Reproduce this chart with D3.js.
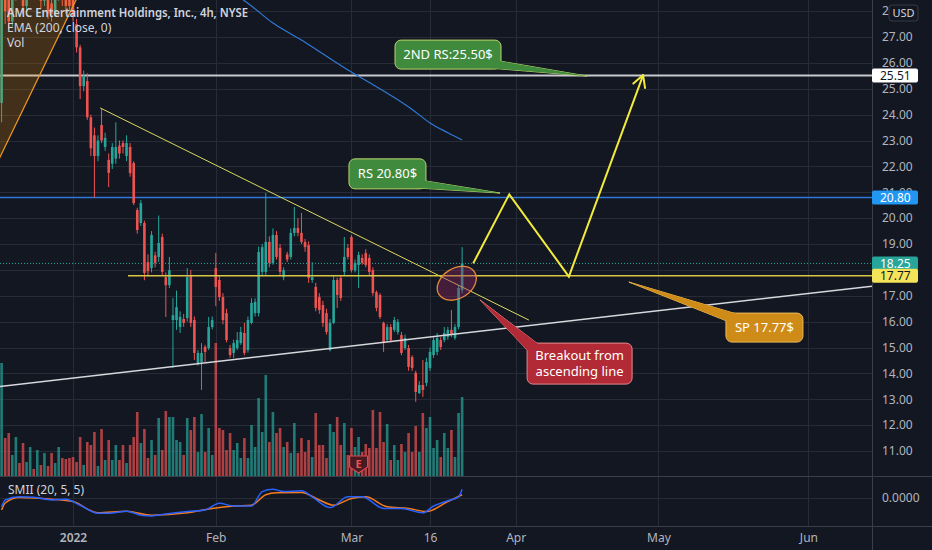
<!DOCTYPE html>
<html>
<head>
<meta charset="utf-8">
<script src="https://cdn.jsdelivr.net/npm/d3@7"></script>
<style>
  html, body { margin: 0; padding: 0; background: #131722; overflow: hidden; }
  svg { display: block; font-family: "Noto Sans", "Open Sans", sans-serif; }
</style>
</head>
<body>
<svg id="chart" width="932" height="550"></svg>
<script>
// ---- data (4h bars, index 0 = first visible bar) ----
const opens = [24.45,29.4,28.6,27.6,28.7,29.6,28.9,28.2,29.1,30.2,29.0,29.6,28.4,29.0,28.3,27.9,28.6,29.3,28.5,28.7,
  28.6,27.5,26.6,25.1,25.3,23.9,23.2,22.4,23.6,22.75,22.25,22.1,22.3,22.8,22.9,22.4,22.75,22.13,20.31,19.81,
  19.81,18.3,18.07,18.56,18.5,19.27,17.72,17.41,16.06,16.06,15.79,16.1,16.14,17.8,16.06,14.4,14.44,15.02,14.98,15.79,
  18.07,17.61,16.95,16.33,14.98,14.79,14.98,15.17,15.56,14.9,15.95,16.33,16.33,17.92,17.92,19.08,18.27,19.35,18.85,17.72,
  18.6,18.5,19.43,19.62,19.43,19.08,18.96,17.61,17.34,16.95,16.64,16.33,14.9,15.95,17.61,17.69,17.92,18.85,19.27,17.99,
  18.19,18.46,18.65,18.46,17.99,17.14,17.03,15.95,15.29,15.79,15.68,15.6,15.48,14.98,14.98,14.63,14.02,13.24,13.55,13.63,
  14.21,14.71,14.83,15.29,15.29,15.41,15.68,15.37,15.79,17.22];
const highs = [29.2,29.9,28.9,29.1,30.0,30.1,29.2,29.4,30.5,30.6,29.9,29.9,29.3,29.2,28.5,29.0,29.6,29.5,28.8,29.0,
  28.9,27.7,26.7,25.7,25.6,24.0,23.5,23.2,24.25,23.3,22.5,22.9,23.7,23.0,23.0,23.2,22.9,22.2,20.4,20.7,
  19.9,18.6,19.5,18.7,20.1,19.4,17.9,18.5,16.91,17.2,16.4,16.3,18.07,18.0,16.2,14.9,15.17,15.1,16.18,16.2,
  18.65,17.8,17.1,16.5,15.1,15.3,15.6,15.8,15.95,16.2,16.9,16.9,18.9,19.0,20.97,19.3,19.6,19.5,19.0,18.1,
  18.7,19.6,20.43,20.0,20.2,19.2,19.1,18.3,17.5,17.1,16.8,16.5,16.1,17.8,17.7,17.8,19.27,19.0,19.35,18.4,
  18.7,18.6,18.8,18.6,18.1,17.2,17.1,16.0,15.9,15.9,16.18,16.1,15.6,15.5,15.1,14.7,14.1,13.7,14.52,14.6,
  15.0,15.4,15.56,15.4,15.79,15.8,16.45,15.9,17.4,18.88];
const lows = [23.7,27.5,27.3,27.4,28.4,28.6,27.9,28.0,28.9,28.8,28.7,28.1,28.2,27.7,27.6,27.8,28.4,28.2,27.9,28.0,
  27.6,26.4,24.6,24.9,23.8,22.4,20.8,22.2,22.9,22.6,21.2,21.9,22.1,22.3,22.5,22.2,21.6,20.5,19.4,19.7,
  17.6,17.75,17.9,18.1,18.3,17.8,16.18,17.3,14.21,15.68,15.56,15.8,16.0,15.79,14.52,14.3,13.36,14.44,14.9,15.7,
  16.6,16.8,15.9,15.2,14.6,14.6,14.9,15.1,14.7,14.8,15.9,16.2,16.2,17.8,17.8,18.1,18.2,18.4,17.8,17.6,
  18.3,18.4,19.3,19.3,19.0,18.7,17.5,17.5,16.4,16.3,15.8,15.5,14.85,15.9,16.53,16.8,17.8,18.4,17.9,17.9,
  17.3,18.2,18.1,17.8,17.0,16.4,16.1,14.83,15.2,15.2,15.6,15.5,14.7,14.9,14.1,14.1,12.9,13.2,13.09,13.5,
  14.1,14.6,14.7,14.9,15.2,15.3,15.4,15.3,15.7,17.1];
const closes = [28.6,28.0,27.6,28.8,29.6,28.9,28.2,29.1,30.2,29.0,29.6,28.4,29.0,27.9,27.9,28.6,29.3,28.5,28.2,28.2,
  27.8,26.6,25.1,25.5,23.9,22.7,22.4,23.0,23.0,23.1,21.75,22.75,22.75,22.5,22.75,22.9,21.74,20.58,19.54,20.58,
  17.88,17.95,19.35,18.27,19.04,17.92,17.41,17.99,16.25,16.56,16.18,15.95,17.72,15.95,14.79,14.79,14.79,14.83,15.79,16.06,
  17.34,16.95,16.06,15.29,14.71,15.17,15.29,15.6,14.79,16.06,16.72,16.76,18.69,18.88,19.08,18.27,19.35,18.5,17.92,17.99,
  18.4,19.43,19.62,19.43,19.08,18.88,17.69,17.72,16.53,16.45,15.95,15.6,15.95,17.61,17.03,16.91,18.5,18.5,17.99,18.27,
  18.58,18.27,18.19,17.92,17.11,16.53,16.18,15.17,15.79,15.29,16.06,15.99,14.79,15.37,14.25,14.21,13.28,13.55,13.36,14.44,
  14.83,15.29,15.37,15.02,15.56,15.68,15.48,15.79,17.3,18.25];
const volumes = [56.5,19,21.5,10.5,19.5,6.5,16.5,7,14.5,3.5,
  13,5.5,11.5,5,11.5,6.5,14.5,9,8.5,9,
  9.5,7,19.5,5.5,17,15.5,22,5,23.5,8,
  18,8,15.5,8,15.5,6.5,15.5,19.5,32,16.5,
  23.5,9,18,10.5,29,13,32.5,29.5,29.5,18,
  17,10.5,29,23,29.5,12,31,12,24,10.5,
  66.5,24,23,13,21.5,13,16.5,9,19,9,
  25.5,14.5,39,22,50.5,17,32,21.5,24,14.5,
  17,11.5,26.5,11.5,19,12,18,9.5,31.5,15.5,
  15.5,9,26,22,29.5,15.5,26.5,10.5,24,14.5,
  19.5,12,16,14,33,14,32,17,26,8,
  15.5,8,16,12,21.5,12,25,12,31.5,24,
  29.5,14,18,9.5,21.5,14,23,9.5,31.5,39.5];

// EMA(200) as read where it is on screen
const emaIdx = [66,70,76,80,85,90,95,100,105,110,115,120,125,129];
const emaVals = [28.6,28.2,27.54,27.2,26.8,26.35,25.9,25.48,25.08,24.66,24.2,23.68,23.3,23.02];

// SMII pane, blue line and orange signal
const smiIdx = [0,1,5,9,14,18,22,27,30,35,39,42,46,52,57,61,65,70,73,76,79,84,87,92,97,101,107,112,118,121,125,128,129];
const smiVals = [-0.22,-0.05,0.03,0.02,-0.05,-0.03,-0.18,-0.38,-0.38,-0.33,-0.43,-0.45,-0.40,-0.34,-0.30,-0.13,-0.20,-0.20,0.16,0.22,0.16,0.18,0.03,-0.24,0.03,0.03,-0.26,-0.26,-0.37,-0.20,-0.07,0.03,0.22];
const sigIdx = [0,1,5,14,20,27,35,42,52,59,65,70,74,77,84,89,93,98,102,108,114,119,125,129];
const sigVals = [-0.30,-0.125,0.01,-0.03,-0.09,-0.37,-0.33,-0.43,-0.37,-0.26,-0.20,-0.18,0.08,0.13,0.14,-0.05,-0.18,-0.01,0.03,-0.22,-0.26,-0.34,-0.09,0.08];

const priceTicks = [11,12,13,14,15,16,17,18,19,20,21,22,23,24,25,26,27,28];
const priceLabels = [11,12,13,14,15,16,17,19,20,21,22,23,24,25,26,27,28]; // 18.00 sits under the tags
const timeTickIdx = [20, 60, 98, 120, 144, 184, 226];
const timeTickLabels = ["2022", "Feb", "Mar", "16", "Apr", "May", "Jun"];

const lastPrice = 18.25;
const level2nd = 25.51;
const levelRs = 20.80;
const levelSp = 17.77;

// drawings, anchored in [bar index, price]
const trendDown = [[27.6, 24.26], [147.7, 16.06]];
const trendUp = [[-0.45, 13.49], [243.8, 17.37]];
const orangeEdge = [[-0.45, 22.36], [20.84, 28.43]];
const arrowPath = [[132.1, 18.25], [142.2, 20.92], [158.9, 17.74], [179.7, 25.53]];
const ellipseAt = [127.5, 17.48];
const earningsIdx = 100;

const callouts = [
  { lines: ["2ND RS:25.50$"], box: [110.2, 26.88], tip: [164, 25.49], corner: "br", kind: "green" },
  { lines: ["RS 20.80$"], box: [97.3, 22.29], tip: [139.6, 20.97], corner: "br", kind: "green" },
  { lines: ["SP 17.77$"], box: [202.9, 16.33], tip: [175.7, 17.53], corner: "tl", kind: "orange" },
  { lines: ["Breakout from", "ascending line"], box: [147.2, 15.17], tip: [134, 16.84], corner: "tl", kind: "red" }
];

// ---- layout ----
const W = 932, H = 550;
const plotRight = 872;
const mainBottom = 476;
const smiTop = 476, smiBottom = 526;
const up = "#26a69a", down = "#ef5350";
const gridColor = "#272b36";
const axisText = "#b2b5be";
const calloutStyle = {
  green: { fill: "#3f8a3c", stroke: "#bcd46c", w: 106, h: 29 },
  orange: { fill: "#cf8b18", stroke: "#e9bb5c", w: 77, h: 29 },
  red: { fill: "#b12a35", stroke: "#e58a8f", w: 105, h: 41 }
};
const boxSize = { "2ND RS:25.50$": [106, 29], "RS 20.80$": [77, 30] };

const svg = d3.select("#chart");

const x = d3.scaleLinear().domain([0, 244]).range([1.6, 1.6 + 244 * 3.57]);
const y = d3.scaleLinear().domain([11, 27]).range([451, 37]);
const yVol = d3.scaleLinear().domain([0, 68]).range([mainBottom, mainBottom - 136]);
const ySmi = d3.scaleLinear().domain([-0.7, 0.55]).range([smiBottom, smiTop]);

const bars = opens.map((o, i) => ({
  i: i, o: o, h: highs[i], l: lows[i], c: closes[i], v: volumes[i]
}));

svg.append("rect").attr("width", W).attr("height", H).attr("fill", "#131722");

const defs = svg.append("defs");
defs.append("clipPath").attr("id", "mainClip")
  .append("rect").attr("x", 0).attr("y", 0).attr("width", plotRight).attr("height", mainBottom);
defs.append("clipPath").attr("id", "smiClip")
  .append("rect").attr("x", 0).attr("y", smiTop).attr("width", plotRight).attr("height", smiBottom - smiTop);

// ---- grid ----
const grid = svg.append("g");
grid.selectAll("line.h")
  .data(priceTicks)
  .join("line")
  .attr("x1", 0).attr("x2", plotRight)
  .attr("y1", (d) => Math.round(y(d)) + 0.5).attr("y2", (d) => Math.round(y(d)) + 0.5)
  .attr("stroke", gridColor);
grid.selectAll("line.v")
  .data(timeTickIdx)
  .join("line")
  .attr("x1", (d) => Math.round(x(d)) + 0.5).attr("x2", (d) => Math.round(x(d)) + 0.5)
  .attr("y1", 0).attr("y2", smiBottom)
  .attr("stroke", gridColor);
grid.append("line")
  .attr("x1", 0).attr("x2", plotRight)
  .attr("y1", Math.round(ySmi(0)) + 0.5).attr("y2", Math.round(ySmi(0)) + 0.5)
  .attr("stroke", gridColor);

const main = svg.append("g").attr("clip-path", "url(#mainClip)");

// volume
const bw = 2.6;
main.append("g")
  .selectAll("rect")
  .data(bars)
  .join("rect")
  .attr("x", (d) => x(d.i) - bw / 2)
  .attr("y", (d) => yVol(d.v))
  .attr("width", bw)
  .attr("height", (d) => yVol(0) - yVol(d.v))
  .attr("fill", (d) => (d.c >= d.o ? up : down))
  .attr("opacity", 0.7);

// horizontal levels
main.append("line")
  .attr("x1", 0).attr("x2", plotRight)
  .attr("y1", y(level2nd)).attr("y2", y(level2nd))
  .attr("stroke", "#c8cad0").attr("stroke-width", 2);
main.append("line")
  .attr("x1", 0).attr("x2", plotRight)
  .attr("y1", y(levelRs)).attr("y2", y(levelRs))
  .attr("stroke", "#2f77d8").attr("stroke-width", 1.5);
main.append("line")
  .attr("x1", 0).attr("x2", plotRight)
  .attr("y1", y(lastPrice)).attr("y2", y(lastPrice))
  .attr("stroke", up).attr("stroke-width", 1)
  .attr("stroke-dasharray", "1,2");

// candles
const candles = main.append("g")
  .selectAll("g")
  .data(bars)
  .join("g")
  .attr("fill", (d) => (d.c >= d.o ? up : down))
  .attr("stroke", (d) => (d.c >= d.o ? up : down));
candles.append("line")
  .attr("x1", (d) => x(d.i)).attr("x2", (d) => x(d.i))
  .attr("y1", (d) => y(d.h)).attr("y2", (d) => y(d.l))
  .attr("stroke-width", 1);
candles.append("rect")
  .attr("stroke", "none")
  .attr("x", (d) => x(d.i) - bw / 2)
  .attr("width", bw)
  .attr("y", (d) => y(Math.max(d.o, d.c)))
  .attr("height", (d) => Math.max(1, Math.abs(y(d.o) - y(d.c))));

// EMA 200
main.append("path")
  .datum(emaIdx.map((d, k) => [d, emaVals[k]]))
  .attr("fill", "none")
  .attr("stroke", "#2f7ad6")
  .attr("stroke-width", 1.2)
  .attr("d", d3.line().x((d) => x(d[0])).y((d) => y(d[1])).curve(d3.curveMonotoneX));

// orange drawing on the left
const oA = orangeEdge[0], oB = orangeEdge[1];
const slope = (oB[1] - oA[1]) / (oB[0] - oA[0]);
const oTop = [oB[0] + (28.9 - oB[1]) / slope, 28.9];
const oLeft = [-1, oA[1] - slope * (oA[0] + 1)];
main.append("path")
  .attr("d", `M${x(oLeft[0])},${y(oLeft[1])}L${x(oTop[0])},${y(oTop[1])}L${x(-1)},${y(28.9)}Z`)
  .attr("fill", "rgba(255,152,0,0.2)");
main.append("line")
  .attr("x1", x(oLeft[0])).attr("y1", y(oLeft[1]))
  .attr("x2", x(oTop[0])).attr("y2", y(oTop[1]))
  .attr("stroke", "#f39a1e").attr("stroke-width", 1.2);

// trendlines
main.append("line")
  .attr("x1", x(trendDown[0][0])).attr("y1", y(trendDown[0][1]))
  .attr("x2", x(trendDown[1][0])).attr("y2", y(trendDown[1][1]))
  .attr("stroke", "#dcd860").attr("stroke-width", 1);
main.append("line")
  .attr("x1", x(trendUp[0][0])).attr("y1", y(trendUp[0][1]))
  .attr("x2", x(trendUp[1][0])).attr("y2", y(trendUp[1][1]))
  .attr("stroke", "#d6d8dd").attr("stroke-width", 1.5);
main.append("line")
  .attr("x1", x(35.4)).attr("x2", plotRight)
  .attr("y1", y(levelSp)).attr("y2", y(levelSp))
  .attr("stroke", "#d9c644").attr("stroke-width", 1.5);

// ellipse around breakout
main.append("ellipse")
  .attr("transform", `translate(${x(ellipseAt[0])},${y(ellipseAt[1])}) rotate(-32)`)
  .attr("rx", 21).attr("ry", 15)
  .attr("fill", "rgba(150,40,100,0.38)")
  .attr("stroke", "#e38b3a").attr("stroke-width", 1.3);

// projected path arrow
const arrowColor = "#f2ea3c";
main.append("path")
  .datum(arrowPath)
  .attr("fill", "none")
  .attr("stroke", arrowColor)
  .attr("stroke-width", 2)
  .attr("stroke-linejoin", "miter")
  .attr("d", d3.line().x((d) => x(d[0])).y((d) => y(d[1])));
{
  const a = arrowPath[arrowPath.length - 2], b = arrowPath[arrowPath.length - 1];
  const tx = x(b[0]), ty = y(b[1]);
  const ang = Math.atan2(ty - y(a[1]), tx - x(a[0]));
  const len = 13;
  [-0.5, 0.5].forEach((da) => {
    main.append("line")
      .attr("x1", tx).attr("y1", ty)
      .attr("x2", tx - len * Math.cos(ang + da)).attr("y2", ty - len * Math.sin(ang + da))
      .attr("stroke", arrowColor).attr("stroke-width", 2).attr("stroke-linecap", "round");
  });
}

// callouts
callouts.forEach((c) => {
  const st = calloutStyle[c.kind];
  const size = boxSize[c.lines[0]] || [st.w, st.h];
  const bx = x(c.box[0]), by = y(c.box[1]);
  const w = size[0], h = size[1];
  const tx = x(c.tip[0]), ty = y(c.tip[1]);
  let p1, p2;
  if (c.corner === "br") {
    p1 = [bx + w - 11, by + h - 1];
    p2 = [bx + w - 1, by + h - 8];
  } else {
    p1 = [bx + 1, by + 8];
    p2 = [bx + 11, by + 1];
  }
  const g = main.append("g");
  const tri = `M${p1[0]},${p1[1]}L${tx},${ty}L${p2[0]},${p2[1]}Z`;
  g.append("path").attr("d", tri).attr("fill", st.fill).attr("stroke", st.stroke).attr("stroke-width", 1);
  g.append("rect")
    .attr("x", bx).attr("y", by).attr("width", w).attr("height", h)
    .attr("rx", 6)
    .attr("fill", st.fill).attr("stroke", st.stroke).attr("stroke-width", 1);
  g.append("path").attr("d", tri).attr("fill", st.fill);
  const lh = 16;
  const y0 = by + h / 2 - ((c.lines.length - 1) * lh) / 2 + 4.5;
  c.lines.forEach((t, k) => {
    g.append("text")
      .attr("x", bx + w / 2).attr("y", y0 + k * lh)
      .attr("text-anchor", "middle")
      .attr("fill", "#ffffff")
      .attr("font-size", "13px")
      .text(t);
  });
});

// earnings marker
{
  const ex = x(earningsIdx);
  const eg = svg.append("g");
  eg.append("path")
    .attr("d", `M${ex - 9},456L${ex + 9},456L${ex + 9},467L${ex},473L${ex - 9},467Z`)
    .attr("fill", "#4a1a22").attr("stroke", "#e0454f").attr("stroke-width", 1.2);
  eg.append("text")
    .attr("x", ex).attr("y", 468)
    .attr("text-anchor", "middle")
    .attr("fill", "#ef5350")
    .attr("font-size", "11px")
    .attr("font-weight", "bold")
    .text("E");
}

// ---- SMII pane ----
const smi = svg.append("g").attr("clip-path", "url(#smiClip)");
const smiLine = d3.line().x((d) => x(d[0])).y((d) => ySmi(d[1])).curve(d3.curveMonotoneX);
smi.append("path")
  .datum(sigIdx.map((d, k) => [d, sigVals[k]]))
  .attr("fill", "none").attr("stroke", "#f57c1f").attr("stroke-width", 1.5)
  .attr("d", smiLine);
smi.append("path")
  .datum(smiIdx.map((d, k) => [d, smiVals[k]]))
  .attr("fill", "none").attr("stroke", "#2962ff").attr("stroke-width", 1.5)
  .attr("d", smiLine);

// separators
svg.append("line").attr("x1", 0).attr("x2", W).attr("y1", mainBottom + 0.5).attr("y2", mainBottom + 0.5)
  .attr("stroke", "#3a3e4a");
svg.append("line").attr("x1", 0).attr("x2", W).attr("y1", smiBottom + 0.5).attr("y2", smiBottom + 0.5)
  .attr("stroke", "#3a3e4a");
svg.append("line").attr("x1", plotRight + 0.5).attr("x2", plotRight + 0.5).attr("y1", 0).attr("y2", H)
  .attr("stroke", "#3a3e4a");

// ---- legend ----
const legend = svg.append("g").attr("fill", "#d1d4dc").attr("font-size", "12px");
legend.append("text").attr("x", 7).attr("y", 17).attr("font-weight", 600)
  .attr("textLength", 241).attr("lengthAdjust", "spacingAndGlyphs")
  .text("AMC Entertainment Holdings, Inc., 4h, NYSE");
legend.append("text").attr("x", 7).attr("y", 32).text("EMA (200, close, 0)");
legend.append("text").attr("x", 7).attr("y", 47).text("Vol");
svg.append("text").attr("x", 8).attr("y", 494).attr("fill", "#d1d4dc").attr("font-size", "12px")
  .text("SMII (20, 5, 5)");

// ---- price axis ----
const yAxis = svg.append("g")
  .attr("transform", `translate(${plotRight},0)`)
  .call(d3.axisRight(y).tickValues(priceLabels).tickSize(0).tickPadding(10).tickFormat(d3.format(".2f")));
yAxis.select(".domain").remove();
yAxis.selectAll("text").attr("fill", axisText).attr("font-size", "12px").attr("font-family", "Noto Sans, sans-serif");

const smiAxis = svg.append("g")
  .attr("transform", `translate(${plotRight},0)`)
  .call(d3.axisRight(ySmi).tickValues([0]).tickSize(0).tickPadding(10).tickFormat(d3.format(".4f")));
smiAxis.select(".domain").remove();
smiAxis.selectAll("text").attr("fill", axisText).attr("font-size", "12px").attr("font-family", "Noto Sans, sans-serif");

// price labels on the axis
const tags = [
  { v: level2nd, bg: "#ffffff", fg: "#131722" },
  { v: levelRs, bg: "#2196f3", fg: "#ffffff" },
  { v: lastPrice, bg: "#26a69a", fg: "#ffffff" },
  { v: levelSp, bg: "#f5e45a", fg: "#131722" }
];
tags.forEach((t) => {
  const ty = y(t.v);
  svg.append("rect")
    .attr("x", plotRight).attr("y", ty - 7).attr("width", 46).attr("height", 14)
    .attr("rx", 2).attr("fill", t.bg);
  svg.append("text")
    .attr("x", plotRight + 8).attr("y", ty + 4.5)
    .attr("fill", t.fg).attr("font-size", "12px")
    .text(d3.format(".2f")(t.v));
});

// USD badge
svg.append("rect").attr("x", 889).attr("y", 5).attr("width", 29).attr("height", 16).attr("rx", 3)
  .attr("fill", "#131722").attr("stroke", "#363a45");
svg.append("text").attr("x", 903.5).attr("y", 17).attr("text-anchor", "middle")
  .attr("fill", "#d1d4dc").attr("font-size", "11px").text("USD");

// ---- time axis ----
const xAxis = svg.append("g")
  .attr("transform", `translate(0,${smiBottom})`)
  .call(d3.axisBottom(x).tickValues(timeTickIdx).tickSize(0).tickPadding(7)
    .tickFormat((d, k) => timeTickLabels[k]));
xAxis.select(".domain").remove();
xAxis.selectAll("text")
  .attr("fill", axisText).attr("font-size", "12px").attr("font-family", "Noto Sans, sans-serif")
  .attr("font-weight", (d, k) => (k === 0 ? 600 : 400));
</script>
</body>
</html>
